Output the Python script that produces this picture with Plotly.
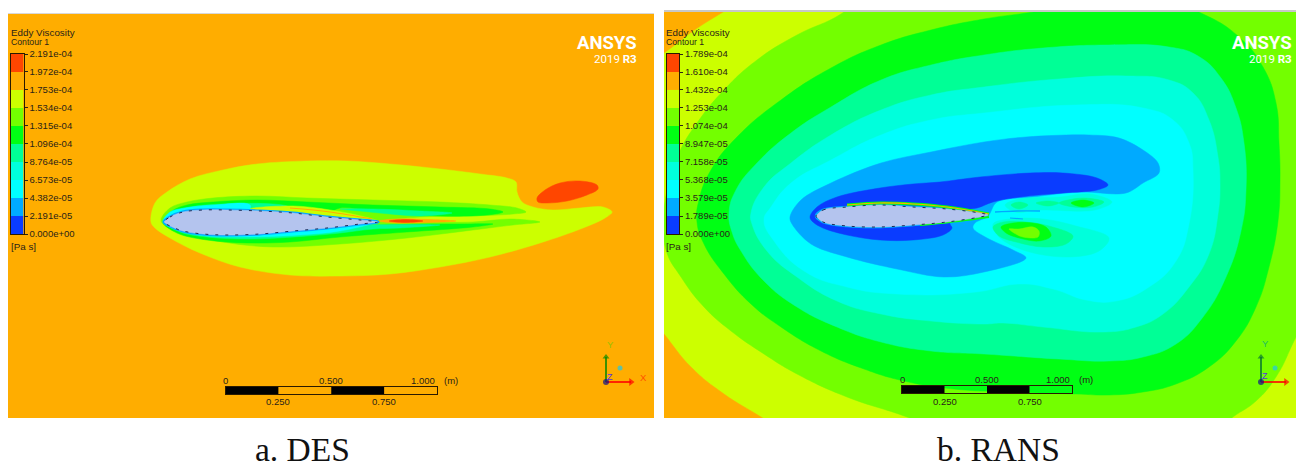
import plotly.graph_objects as go

W, H = 1296, 463
FONT = "Liberation Sans"
INK = "#2a2418"

# contour band colours, lowest level first
band_colors = ["#0A3CFF", "#00AAFF", "#00FFFF", "#00FFDC", "#00FF96",
               "#00FF14", "#73FF00", "#CCFF00", "#FFAD00", "#FF4600"]
levels_des = [0, 2.191e-5, 4.382e-5, 6.573e-5, 8.764e-5, 1.096e-4, 1.315e-4, 1.534e-4, 1.753e-4, 1.972e-4, 2.191e-4]
labels_des = ["0.000e+00", "2.191e-05", "4.382e-05", "6.573e-05", "8.764e-05", "1.096e-04",
              "1.315e-04", "1.534e-04", "1.753e-04", "1.972e-04", "2.191e-04"]
levels_rans = [0, 1.789e-5, 3.579e-5, 5.368e-5, 7.158e-5, 8.947e-5, 1.074e-4, 1.253e-4, 1.432e-4, 1.610e-4, 1.789e-4]
labels_rans = ["0.000e+00", "1.789e-05", "3.579e-05", "5.368e-05", "7.158e-05", "8.947e-05",
               "1.074e-04", "1.253e-04", "1.432e-04", "1.610e-04", "1.789e-04"]

BLUE, SKY, CYAN, AQUA, SPRING, GREEN, LIME, YELLOW, ORANGE, RED = band_colors
FOIL = "#B4C4EE"

# ---- DES panel outlines (x, y)
des_outer = [(151,222),(155,203),(167,192),(190,179),(223,170),(257,164),(307,161),(347,161),(390,164),(440,169),(480,174),(507,178),(516,182),(517,192),(522,202),(533,207),(553,210),(580,208),(603,207),(612,212),(605,218),(583,228),(540,243),(490,257),(440,267),(390,274),(340,276),(290,275),(240,267),(200,253),(170,238),(155,228)]
des_blob = [(537,198),(545,190),(560,183),(580,181),(597,185),(598,189),(587,195),(567,201),(547,203),(538,202)]
des_lime = [(161,220),(170,208),(187,202),(213,198),(257,196),(307,198),(373,200),(440,202),(490,205),(517,208),(526,212),(513,214),(473,216),(420,217),(380,221),(420,222),(473,222),(510,219),(540,222),(513,225),(473,230),(407,238),(340,244),(273,247),(223,242),(183,232),(165,226)]
des_green = [(163,222),(172,211),(187,205),(213,202),(257,200),(307,202),(373,205),(440,207),(490,209),(503,212),(487,215),(440,216),(400,213),(367,210),(340,208),(330,214),(340,226),(380,225),(423,224),(457,224),(493,224),(473,227),(407,232),(340,237),(290,242),(247,243),(207,240),(177,233)]
des_spring = [(165,222),(173,212),(190,207),(223,204),(273,204),(290,207),(300,215),(360,224),(410,224.5),(440,225),(400,228),(373,229),(340,233),(307,236),(250,239),(207,237),(180,232)]
des_spring_top = [(340,209),(373,209),(420,211),(452,213),(420,216),(390,214),(360,211)]
des_cyan = [(163,222),(170,212),(185,208),(215,205),(250,205),(250,215),(330,225),(375,222.5),(340,231),(300,235),(250,237),(207,236),(180,231)]
des_wedge = [(250,209),(293,206),(330,210),(365,217),(378,221),(360,221),(327,218),(293,214),(260,212)]
des_streak = [(290,208),(330,212),(372,219)]
des_wake_orange = [(378,221),(395,219),(430,219.5),(456,221),(430,222.5),(395,223)]
des_wake_red = [(389,221),(405,219.5),(423,221),(405,222.5)]
des_foil = [(164,222),(170,217),(183,212),(203,210),(227,210),(260,211),(293,213),(327,217),(360,220),(378,222),(360,224),(327,228),(293,231),(260,234),(227,235),(203,234),(183,231),(170,226),(164,222)]

# ---- RANS panel outlines (x, y)
rans_corner_top = [(630,75),(664,53),(693,31),(723,12),(755,-8),(630,-8)]
rans_corner_low = [(640,305),(664,334),(691,367),(724,394),(761,417),(790,436),(620,436),(620,305)]
rans_lime = [(870,-10),(841,14),(797,35),(757,60),(724,90),(697,123),(679,153),(668,186),(664,218),(666,250),(681,277),(704,307),(731,331),(764,354),(797,374),(847,397),(907,417),(950,435),(1210,435),(1233,417),(1256,401),(1276,377),(1296,337),(1330,270),(1340,-30)]
rans_green = [(1100,0),(1040,11),(984,19),(931,30),(881,45),(831,68),(781,100),(737,137),(711,170),(699,200),(697,222),(704,244),(724,274),(751,304),(781,327),(821,351),(864,369),(904,381),(954,389),(1009,392),(1076,394),(1109,395),(1143,392),(1176,384),(1209,367),(1236,341),(1256,307),(1269,267),(1278,221),(1280,180),(1279,143),(1276,103),(1263,67),(1239,37),(1203,14),(1160,0)]
rans_spring = [(984,55),(931,65),(881,80),(831,107),(791,133),(757,163),(736,190),(729,213),(732,232),(741,251),(764,281),(797,307),(837,327),(881,342),(931,351),(984,354),(1059,359),(1109,361),(1143,357),(1176,344),(1203,317),(1226,277),(1241,231),(1246,190),(1244,143),(1236,108),(1221,78),(1198,56),(1169,47),(1109,45),(1043,48)]
rans_aqua = [(984,87),(931,95),(881,110),(831,135),(791,163),(764,187),(751,213),(752,224),(767,251),(797,277),(837,301),(881,314),(931,321),(984,324),(1003,323),(1043,327),(1103,332),(1136,327),(1163,314),(1189,287),(1209,254),(1218,214),(1220,185),(1218,157),(1209,120),(1193,93),(1169,80),(1126,76),(1059,79)]
rans_cyan = [(984,113),(931,120),(881,135),(831,160),(791,183),(771,207),(764,220),(774,241),(804,271),(847,287),(897,294),(976,292),(1019,284),(1053,289),(1086,300),(1116,301),(1149,287),(1176,261),(1189,224),(1193,170),(1189,143),(1173,120),(1143,108),(1076,105)]
rans_sky = [(984,142),(931,152),(881,163),(831,183),(801,200),(790,217),(792,224),(811,244),(847,257),(897,269),(944,277),(984,272),(1026,258),(1013,250),(987,238),(973,228),(975,223),(988,216),(997,202),(1033,197),(1080,192),(1126,193),(1143,183),(1159,173),(1158,163),(1143,150),(1119,138),(1089,135),(1026,137)]
rans_deep = [(810,217),(817,207),(837,197),(880,188),(913,184),(940,182),(980,177),(1030,173),(1063,173),(1097,178),(1108,185),(1097,190),(1063,193),(1020,197),(993,202),(977,208),(950,212),(950,224),(952,228),(943,235),(913,240),(880,240),(847,235),(823,228),(813,222)]
rans_wake_aqua_top = [(1005,205),(1019,199),(1060,197),(1090,194),(1112,202),(1095,210),(1040,210),(1015,212)]
rans_wake_s1 = [(1011,205),(1019,202),(1028,205),(1019,209)]
rans_wake_s2 = [(1036,203),(1048,201),(1059,203),(1048,206)]
rans_wake_s3 = [(1059,203),(1083,198),(1104,202),(1093,207),(1073,207)]
rans_wake_g3 = [(1071,203),(1083,200),(1094,203),(1083,207)]
rans_vortex_aqua = [(993,224),(1009,219),(1043,219),(1076,226),(1109,238),(1099,251),(1069,257),(1026,251),(999,237)]
rans_vortex_spring = [(993,227),(1003,222),(1026,222),(1049,226),(1073,236),(1066,244),(1043,247),(1016,242),(999,236)]
rans_vortex_green = [(1001,227),(1013,223),(1033,223),(1046,227),(1051,236),(1039,241),(1019,238),(1006,233)]
rans_vortex_lime = [(1009,229),(1019,229),(1033,227),(1039,231),(1038,237),(1023,237),(1014,233)]
rans_streak_sky1 = [(995,212),(1017,211),(1040,211)]
rans_streak_sky2 = [(1010,218),(1023,219)]
rans_foil = [(816,216),(823,210),(847,207),(880,205),(913,207),(947,209),(980,213),(988,215),(980,217),(947,222),(913,225),(880,227),(847,226),(823,222),(816,216)]
rans_top_streak = [(847,205),(880,203),(913,204),(947,207),(989,214)]
rans_low_streak = [(920,225),(950,222),(989,217)]

# ---- scale bars, metres
scale_black_starts = [0.0, 0.5]
scale_black_widths = [0.25, 0.25]
scale_labels_top = [(0.0, "0"), (0.5, "0.500")]
scale_labels_low = [(0.25, "0.250"), (0.75, "0.750")]


def dom_x(a, b):
    return [a / W, b / W]


def dom_y(top, bottom):
    return [1 - bottom / H, 1 - top / H]


def hidden(**kw):
    return dict(visible=False, fixedrange=True, **kw)


fig = go.Figure()


def region(pts, color, ax, smoothing=1.0):
    fig.add_trace(go.Scatter(x=[p[0] for p in pts] + [pts[0][0]], y=[p[1] for p in pts] + [pts[0][1]],
                             mode="lines", fill="toself", fillcolor=color,
                             line=dict(color=color, width=0.5, shape="spline", smoothing=smoothing, simplify=False),
                             xaxis="x" + ax, yaxis="y" + ax, hoverinfo="skip", showlegend=False))


def stroke(pts, color, width, ax, dash="solid", spline=True):
    fig.add_trace(go.Scatter(x=[p[0] for p in pts], y=[p[1] for p in pts], mode="lines",
                             line=dict(color=color, width=width, dash=dash, shape="spline" if spline else "linear"),
                             xaxis="x" + ax, yaxis="y" + ax, hoverinfo="skip", showlegend=False))


def triad(ox, oy, ax, ycolor):
    stroke([(ox, oy), (ox, oy - 25)], ycolor, 1.6, ax, spline=False)
    stroke([(ox, oy), (ox + 25, oy)], "#FF0000", 1.6, ax, spline=False)
    fig.add_trace(go.Scatter(x=[ox, ox + 25, ox + 14, ox], y=[oy - 25, oy, oy - 14, oy], mode="markers",
                             marker=dict(symbol=["triangle-up", "triangle-right", "circle", "circle"],
                                         size=[6, 7, 5, 6], color=[ycolor, "#FF0000", "#1FC8E8", "#10108A"], line_width=0),
                             xaxis="x" + ax, yaxis="y" + ax, hoverinfo="skip", showlegend=False))


# ---- DES
for pts, col in [(des_outer, YELLOW), (des_blob, RED), (des_lime, LIME), (des_green, GREEN),
                 (des_spring, SPRING), (des_spring_top, SPRING), (des_cyan, CYAN), (des_wedge, YELLOW)]:
    region(pts, col, "")
stroke(des_streak, ORANGE, 1.2, "")
region(des_wake_orange, ORANGE, "")
region(des_wake_red, RED, "")
stroke(des_foil, SKY, 3, "")
region(des_foil, FOIL, "")
stroke(des_foil, "#1E2A55", 1, "", dash="3px 7px")
triad(606, 382, "", "#0A8A00")

# ---- RANS
for pts, col in [(rans_corner_top, ORANGE), (rans_corner_low, ORANGE), (rans_lime, LIME), (rans_green, GREEN),
                 (rans_spring, SPRING), (rans_aqua, AQUA), (rans_cyan, CYAN)]:
    region(pts, col, "2", smoothing=1.3)
for pts, col in [(rans_sky, SKY), (rans_deep, BLUE),
                 (rans_wake_aqua_top, AQUA), (rans_wake_s1, SPRING), (rans_wake_s2, SPRING), (rans_wake_s3, SPRING),
                 (rans_wake_g3, GREEN), (rans_vortex_aqua, AQUA), (rans_vortex_spring, SPRING),
                 (rans_vortex_green, GREEN), (rans_vortex_lime, LIME)]:
    region(pts, col, "2")
stroke(rans_streak_sky1, SKY, 1.4, "2")
stroke(rans_streak_sky2, SKY, 1.2, "2")
stroke(rans_foil, SKY, 2.5, "2")
stroke(rans_top_streak, GREEN, 3, "2")
stroke(rans_top_streak, ORANGE, 1.2, "2")
stroke(rans_low_streak, GREEN, 2, "2")
region(rans_foil, FOIL, "2")
stroke(rans_foil, "#1E2A55", 1, "2", dash="3px 7px")
triad(1261, 382, "2", "#0A7A30")

# ---- legends
for levels, ax in [(levels_des, "3"), (levels_rans, "4")]:
    fig.add_trace(go.Bar(x=[0] * 10, y=[levels[i + 1] - levels[i] for i in range(10)], base=levels[:-1],
                         marker=dict(color=band_colors, line_width=0), width=1,
                         xaxis="x" + ax, yaxis="y" + ax, hoverinfo="skip", showlegend=False))

# ---- scale bars
for ax in ["5", "6"]:
    fig.add_trace(go.Bar(y=[0, 0], x=scale_black_widths, base=scale_black_starts, orientation="h", width=1,
                         marker=dict(color="#000000", line_width=0),
                         xaxis="x" + ax, yaxis="y" + ax, hoverinfo="skip", showlegend=False))


def legend_axis(levels, labels, x0, x1):
    xa = dict(domain=dom_x(x0, x1), range=[-0.5, 0.5], showticklabels=False, ticks="", showgrid=False, zeroline=False,
              showline=True, linecolor="#2a1a00", linewidth=1, mirror=True, fixedrange=True)
    ya = dict(domain=dom_y(54, 234), range=[0, levels[-1]], tickmode="array", tickvals=levels, ticktext=labels,
              side="right", ticks="outside", ticklen=3, tickcolor=INK, showgrid=False, zeroline=False,
              showline=True, linecolor="#2a1a00", linewidth=1, mirror=True, fixedrange=True,
              tickfont=dict(family=FONT, size=9.5, color=INK), automargin=False)
    return xa, ya


def scale_axis(x0, x1, top, bottom):
    xa = dict(domain=dom_x(x0, x1), range=[0, 1], showticklabels=False, ticks="", showgrid=False, zeroline=False,
              showline=True, linecolor="#2a1a00", linewidth=1, mirror=True, fixedrange=True)
    ya = dict(domain=dom_y(top, bottom), range=[-0.5, 0.5], showticklabels=False, ticks="", showgrid=False, zeroline=False,
              showline=True, linecolor="#2a1a00", linewidth=1, mirror=True, fixedrange=True)
    return xa, ya


x3, y3 = legend_axis(levels_des, labels_des, 11, 23.5)
x4, y4 = legend_axis(levels_rans, labels_rans, 667, 679)
y3["anchor"] = "x3"; x3["anchor"] = "y3"
y4["anchor"] = "x4"; x4["anchor"] = "y4"
x5, y5 = scale_axis(225.5, 437, 387, 394)
x6, y6 = scale_axis(902, 1072, 386, 393)
x5["anchor"] = "y5"; y5["anchor"] = "x5"; x6["anchor"] = "y6"; y6["anchor"] = "x6"

ann = []


def text(x, y, s, size, color=INK, anchor="left", family=FONT):
    ann.append(dict(x=x / W, y=1 - y / H, xref="paper", yref="paper", text=s, showarrow=False, xanchor=anchor, yanchor="middle",
                    font=dict(family=family, size=size, color=color), borderpad=0, borderwidth=0))


def scale_text(ax, x, y, s, anchor="center"):
    ann.append(dict(x=x, xref="x" + ax, y=1 - y / H, yref="paper", text=s, showarrow=False, xanchor=anchor, yanchor="middle",
                    font=dict(family=FONT, size=9.5, color=INK)))


for left, logo_right, ax, top, low, m_x in [(11, 636, "5", 380, 401.5, 451), (666, 1291, "6", 379, 401, 1086)]:
    text(left, 33, "Eddy Viscosity", 9.8)
    text(left, 42, "Contour 1", 8.7)
    text(left, 246.5, "[Pa s]", 9.8)
    text(logo_right + 1, 43, "<b>ANSYS</b>", 18.5, "#FFFFFF", "right", "Roboto")
    text(logo_right + 1, 59, "2019 <b>R3</b>", 11.5, "#FFFFFF", "right", "Roboto")
    for v, s in scale_labels_top:
        scale_text(ax, v, top, s)
    for v, s in scale_labels_low:
        scale_text(ax, v, low, s)
    scale_text(ax, 1.0, top, "1.000", "right")
    text(m_x, top, "(m)", 9.5, INK, "center")
text(610, 344, "Y", 9.5, "#9AC000", "center")
text(643, 377, "X", 9.5, "#FF5000", "center")
text(610, 377, "Z", 9, "#5A30E0", "center")
text(1265, 343, "Y", 9.5, "#20C060", "center")
text(1265, 376, "Z", 9, "#5A30E0", "center")
text(302.5, 449.5, "a. DES", 33.5, "#111111", "center", "Liberation Serif")
text(998.5, 449.5, "b. RANS", 33.5, "#111111", "center", "Liberation Serif")

shapes = [
    dict(type="rect", xref="paper", yref="paper", x0=8 / W, x1=654 / W, y0=1 - 418 / H, y1=1 - 14 / H,
         fillcolor=ORANGE, line_width=0, layer="below"),
    dict(type="rect", xref="paper", yref="paper", x0=664 / W, x1=1296 / W, y0=1 - 418 / H, y1=1 - 12 / H,
         fillcolor=YELLOW, line_width=0, layer="below"),
    dict(type="rect", xref="paper", yref="paper", x0=664 / W, x1=1296 / W, y0=1 - 12 / H, y1=1 - 10 / H,
         fillcolor="#C8C8C8", line_width=0, layer="below"),
    dict(type="rect", xref="paper", yref="paper", x0=8 / W, x1=654 / W, y0=1 - 14 / H, y1=1 - 13 / H,
         fillcolor="#D8D8D8", line_width=0, layer="below"),
]

fig.update_layout(
    width=W, height=H, margin=dict(l=0, r=0, t=0, b=0), autosize=False,
    paper_bgcolor="#FFFFFF", plot_bgcolor="rgba(0,0,0,0)", showlegend=False, barmode="overlay",
    xaxis=hidden(domain=dom_x(8, 654), range=[8, 654], anchor="y"),
    yaxis=hidden(domain=dom_y(14, 418), range=[418, 14], anchor="x"),
    xaxis2=hidden(domain=dom_x(664, 1296), range=[664, 1296], anchor="y2"),
    yaxis2=hidden(domain=dom_y(12, 418), range=[418, 12], anchor="x2"),
    xaxis3=x3, yaxis3=y3, xaxis4=x4, yaxis4=y4, xaxis5=x5, yaxis5=y5, xaxis6=x6, yaxis6=y6,
    annotations=ann, shapes=shapes,
)

fig.write_html("out.html", config={"displayModeBar": False, "responsive": False},
               post_script="document.body.style.margin='0';document.documentElement.style.overflow='hidden';")
